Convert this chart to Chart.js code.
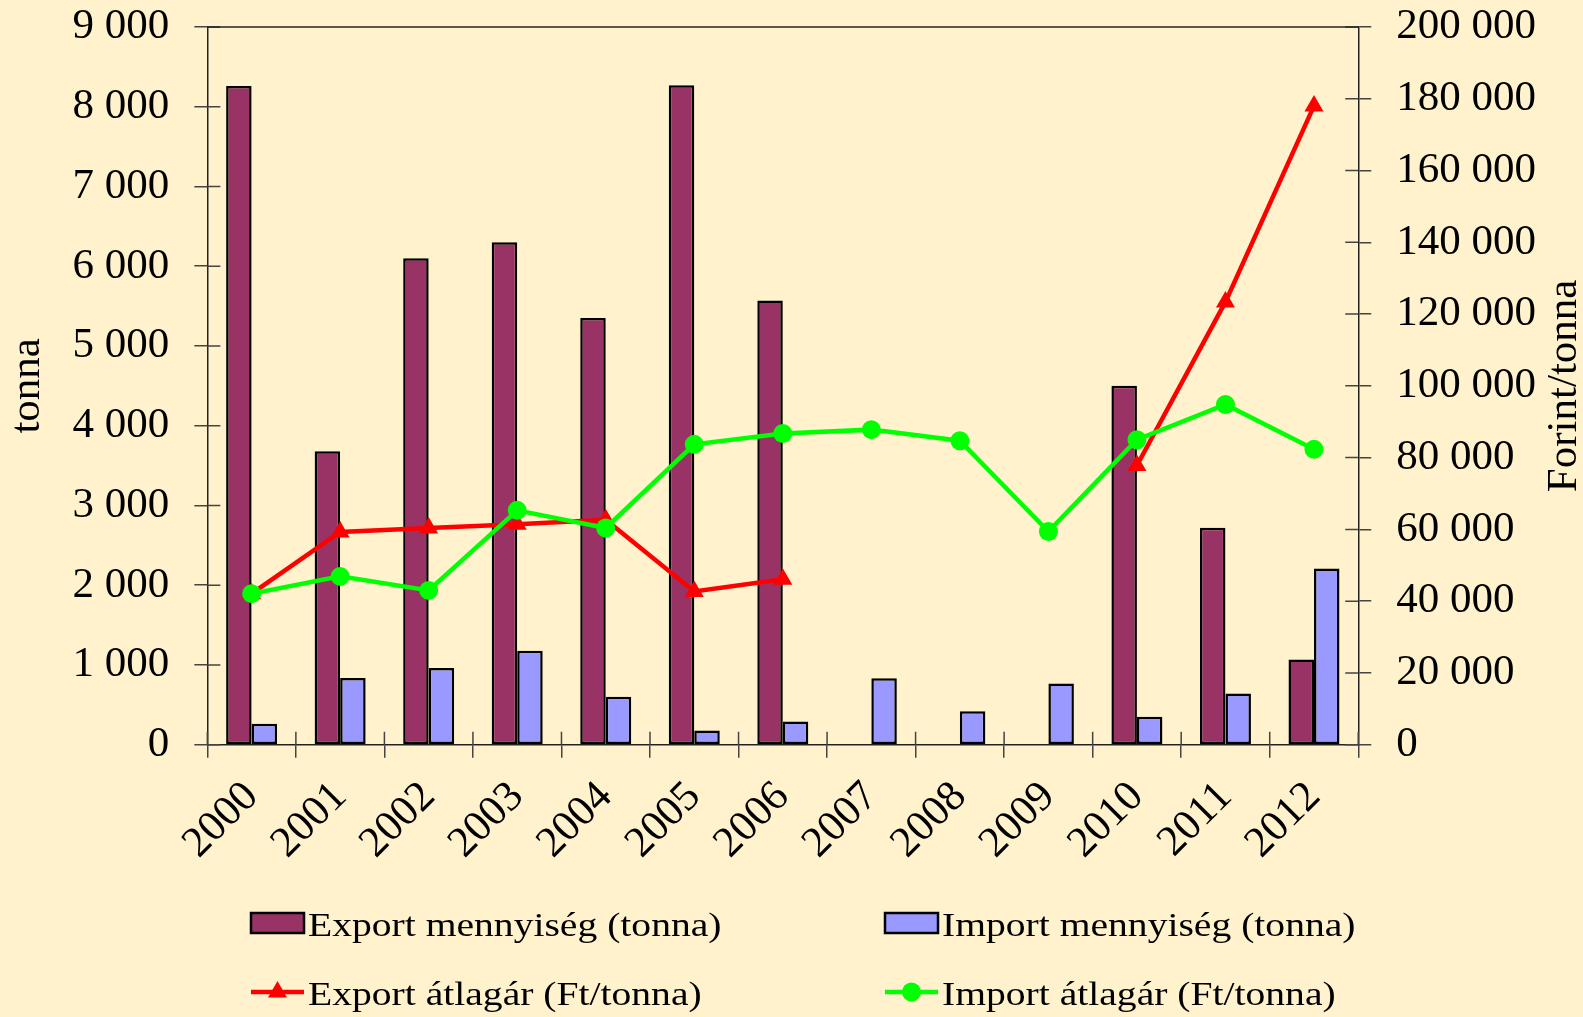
<!DOCTYPE html>
<html><head><meta charset="utf-8">
<script src="https://cdn.jsdelivr.net/npm/chart.js@4"></script>
<style>html,body{margin:0;padding:0;background:#FFF2CC;} #wrap{width:1583px;height:1017px;position:relative;}
#pre{position:absolute;left:-9999px;top:0;font-family:'Liberation Serif';font-size:43px;}</style>
</head><body><div id="pre">Export 9 000 átlagár</div><div id="wrap"><canvas id="c" width="1583" height="1017"></canvas></div>
<script>
const years = ['2000','2001','2002','2003','2004','2005','2006','2007','2008','2009','2010','2011','2012'];
const exportQty = [8260, 3680, 6100, 6300, 5350, 8270, 5570, null, null, null, 4500, 2720, 1070];
const importQty = [263, 835, 961, 1179, 602, 179, 292, 832, 421, 769, 351, 643, 2211];
const exportPrice = [42100, 59300, 60400, 61400, 62700, 42700, 46100, null, null, null, 77800, 123400, 178000];
const importPrice = [42100, 46900, 43000, 65300, 60400, 83700, 86700, 87800, 84700, 59400, 85000, 94800, 82300];
const leftTicks = [0, 1000, 2000, 3000, 4000, 5000, 6000, 7000, 8000, 9000];
const rightTicks = [0, 20000, 40000, 60000, 80000, 100000, 120000, 140000, 160000, 180000, 200000];
const seriesLabels = ['Export mennyiség (tonna)', 'Import mennyiség (tonna)', 'Export átlagár (Ft/tonna)', 'Import átlagár (Ft/tonna)'];
const leftTitle = 'tonna';
const rightTitle = 'Forint/tonna';

const FONT = "'Liberation Serif', 'Times New Roman', serif";
const fmt = v => String(v).replace(/\B(?=(\d{3})+(?!\d))/g, ' ');

const crossTicks = {
  id: 'crossTicks',
  beforeDatasetsDraw(chart, args, o) {
    const {ctx, chartArea: a, scales} = chart;
    ctx.save();
    ctx.strokeStyle = o.color; ctx.lineWidth = o.width;
    const L = o.length;
    ctx.beginPath();
    scales.y.ticks.forEach((t, i) => { const p = scales.y.getPixelForTick(i); ctx.moveTo(a.left, p); ctx.lineTo(a.left + L, p); });
    scales.y1.ticks.forEach((t, i) => { const p = scales.y1.getPixelForTick(i); ctx.moveTo(a.right, p); ctx.lineTo(a.right - L, p); });
    const xs = scales.x;
    const half = (xs.getPixelForValue(1) - xs.getPixelForValue(0)) / 2;
    for (let i = 0; i <= xs.ticks.length; i++) {
      const p = xs.getPixelForValue(0) - half + i * 2 * half;
      ctx.moveTo(p, a.bottom); ctx.lineTo(p, a.bottom - L);
    }
    ctx.stroke();
    ctx.strokeStyle = o.borderColor; ctx.lineWidth = o.borderWidth;
    ctx.beginPath(); ctx.moveTo(a.left, a.top); ctx.lineTo(a.right, a.top); ctx.stroke();
    ctx.restore();
  }
};

const rightTitlePlugin = {
  id: 'rightTitle',
  afterDraw(chart, args, o) {
    const {ctx, chartArea: a} = chart;
    ctx.save();
    ctx.font = o.size + 'px ' + FONT;
    ctx.fillStyle = '#000';
    ctx.textAlign = 'center'; ctx.textBaseline = 'middle';
    ctx.translate(chart.width - o.fromRight, (a.top + a.bottom) / 2);
    ctx.rotate(-Math.PI / 2);
    ctx.fillText(o.text, 0, 0);
    ctx.restore();
  }
};

const gridLegend = {
  id: 'gridLegend',
  afterDraw(chart, args, o) {
    const {ctx} = chart;
    const ds = chart.data.datasets;
    o.items.forEach((it, k) => {
      const d = ds[k];
      const x0 = o.colX[it.col], yc = o.rowY[it.row];
      ctx.save();
      if (d.type === 'line') {
        ctx.strokeStyle = d.borderColor; ctx.lineWidth = 4.5;
        ctx.beginPath(); ctx.moveTo(x0, yc); ctx.lineTo(x0 + o.markW, yc); ctx.stroke();
        ctx.fillStyle = d.borderColor;
        const cx = x0 + o.markW / 2;
        if (d.pointStyle === 'triangle') {
          const r = 11;
          ctx.beginPath();
          ctx.moveTo(cx, yc - r);
          ctx.lineTo(cx + r * Math.sin(2 * Math.PI / 3), yc - r * Math.cos(2 * Math.PI / 3));
          ctx.lineTo(cx + r * Math.sin(4 * Math.PI / 3), yc - r * Math.cos(4 * Math.PI / 3));
          ctx.closePath(); ctx.fill();
        } else {
          ctx.beginPath(); ctx.arc(cx, yc, 9.5, 0, Math.PI * 2); ctx.fill();
        }
      } else {
        ctx.fillStyle = d.backgroundColor; ctx.strokeStyle = '#000'; ctx.lineWidth = 2.5;
        ctx.fillRect(x0, yc - o.boxH / 2, o.markW, o.boxH);
        ctx.strokeRect(x0, yc - o.boxH / 2, o.markW, o.boxH);
      }
      ctx.fillStyle = '#000';
      ctx.font = o.size + 'px ' + FONT;
      ctx.textBaseline = 'alphabetic'; ctx.textAlign = 'left';
      ctx.translate(x0 + o.markW + o.gap, yc + o.baseOff);
      ctx.scale(o.stretch, 1);
      ctx.fillText(d.label, 0, 0);
      ctx.restore();
    });
  }
};

const gridCommon = { display: true, drawOnChartArea: false, drawTicks: true, tickLength: 13, color: '#444', lineWidth: 1.5 };
const borderCommon = { display: true, color: '#222', width: 1.5 };
const tickFont = { family: FONT, size: 43 };
// Chart.js counts tick padding twice in the axis width; remove the extra copy
const trimY = s => { s.paddingTop = 20; s.paddingBottom = 20; s.width -= s.options.ticks.padding; };

function draw() {
  new Chart(document.getElementById('c'), {
    type: 'bar',
    data: {
      labels: years,
      datasets: [
        { type: 'bar', label: seriesLabels[0], data: exportQty, yAxisID: 'y', backgroundColor: '#993366', borderColor: '#000', borderWidth: 2.5, borderSkipped: false, barPercentage: 1, categoryPercentage: 0.576, order: 2 },
        { type: 'bar', label: seriesLabels[1], data: importQty, yAxisID: 'y', backgroundColor: '#9999FF', borderColor: '#000', borderWidth: 2.5, borderSkipped: false, barPercentage: 1, categoryPercentage: 0.576, order: 2 },
        { type: 'line', label: seriesLabels[2], data: exportPrice, yAxisID: 'y1', borderColor: '#FF0000', backgroundColor: '#FF0000', borderWidth: 4.5, pointStyle: 'triangle', pointRadius: 11, pointBorderWidth: 0, pointBackgroundColor: '#FF0000', tension: 0, spanGaps: false, order: 1 },
        { type: 'line', label: seriesLabels[3], data: importPrice, yAxisID: 'y1', borderColor: '#00FF00', backgroundColor: '#00FF00', borderWidth: 4.5, pointStyle: 'circle', pointRadius: 9.5, pointBorderWidth: 0, pointBackgroundColor: '#00FF00', tension: 0, spanGaps: false, order: 0 }
      ]
    },
    options: {
      responsive: false,
      animation: false,
      layout: { padding: { left: 2, right: 47, top: 27, bottom: 134 } },
      plugins: {
        legend: { display: false },
        tooltip: { enabled: false },
        crossTicks: { color: '#444', width: 1.5, length: 13, borderColor: '#222', borderWidth: 1.5 },
        rightTitle: { text: rightTitle, size: 43, fromRight: 18 },
        gridLegend: {
          items: [{col: 0, row: 0}, {col: 1, row: 0}, {col: 0, row: 1}, {col: 1, row: 1}],
          colX: [251, 885], rowY: [923, 992], markW: 53, boxH: 20, gap: 4, size: 33, stretch: 1.2, baseOff: 13
        }
      },
      scales: {
        x: {
          offset: true,
          grid: Object.assign({}, gridCommon, { offset: true }),
          border: borderCommon,
          ticks: { font: tickFont, color: '#000', minRotation: 45, maxRotation: 45, padding: 14, autoSkip: false }
        },
        y: {
          position: 'left', min: 0, max: 9000,
          afterBuildTicks: s => { s.ticks = leftTicks.map(v => ({ value: v })); },
          afterFit: trimY,
          grid: gridCommon, border: borderCommon,
          ticks: { font: tickFont, color: '#000', padding: 25, callback: v => fmt(v) },
          title: { display: true, text: leftTitle, font: { family: FONT, size: 43 }, color: '#000', padding: { top: 0, bottom: 19 } }
        },
        y1: {
          position: 'right', min: 0, max: 200000,
          afterBuildTicks: s => { s.ticks = rightTicks.map(v => ({ value: v })); },
          afterFit: trimY,
          grid: gridCommon, border: borderCommon,
          ticks: { font: tickFont, color: '#000', padding: 25, callback: v => fmt(v) }
        }
      }
    },
    plugins: [crossTicks, rightTitlePlugin, gridLegend]
  });
}

const fontsReady = Promise.all([
  document.fonts.load('43px "Liberation Serif"', 'Export 9 000'),
  document.fonts.load('33px "Liberation Serif"', 'átlagár')
]).catch(() => {});
fontsReady.then(() => document.fonts.ready).then(draw, draw);
</script>
</body></html>
